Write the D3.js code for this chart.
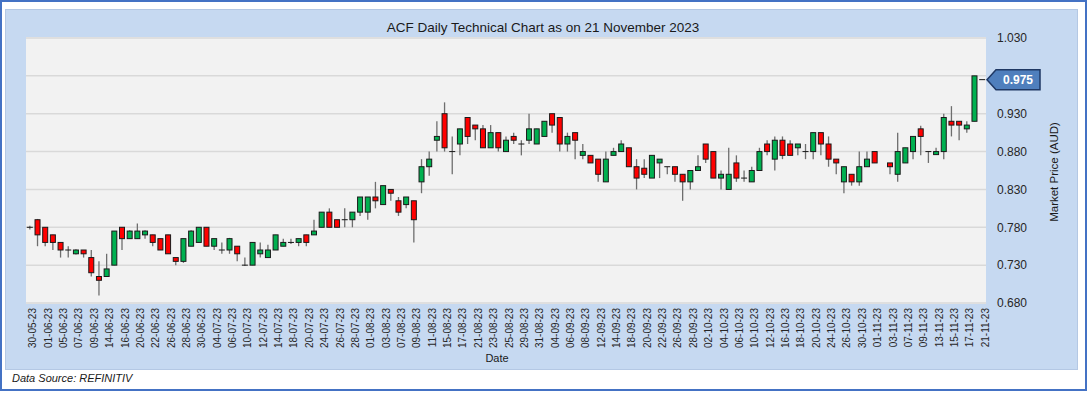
<!DOCTYPE html>
<html><head><meta charset="utf-8">
<script src="https://cdn.jsdelivr.net/npm/d3@7"></script>
<style>html,body{margin:0;padding:0;background:#fff;}svg{display:block;}</style>
</head><body>
<script>
const dates = ["30-05-23","31-05-23","01-06-23","02-06-23","05-06-23","06-06-23","07-06-23","08-06-23","09-06-23","13-06-23","14-06-23","15-06-23","16-06-23","19-06-23","20-06-23","21-06-23","22-06-23","23-06-23","26-06-23","27-06-23","28-06-23","29-06-23","30-06-23","03-07-23","04-07-23","05-07-23","06-07-23","07-07-23","10-07-23","11-07-23","12-07-23","13-07-23","14-07-23","17-07-23","18-07-23","19-07-23","20-07-23","21-07-23","24-07-23","25-07-23","26-07-23","27-07-23","28-07-23","31-07-23","01-08-23","02-08-23","03-08-23","04-08-23","07-08-23","08-08-23","09-08-23","10-08-23","11-08-23","14-08-23","15-08-23","16-08-23","17-08-23","18-08-23","21-08-23","22-08-23","23-08-23","24-08-23","25-08-23","28-08-23","29-08-23","30-08-23","31-08-23","01-09-23","04-09-23","05-09-23","06-09-23","07-09-23","08-09-23","11-09-23","12-09-23","13-09-23","14-09-23","15-09-23","18-09-23","19-09-23","20-09-23","21-09-23","22-09-23","25-09-23","26-09-23","27-09-23","28-09-23","29-09-23","02-10-23","03-10-23","04-10-23","05-10-23","06-10-23","09-10-23","10-10-23","11-10-23","12-10-23","13-10-23","16-10-23","17-10-23","18-10-23","19-10-23","20-10-23","23-10-23","24-10-23","25-10-23","26-10-23","27-10-23","30-10-23","31-10-23","01-11-23","02-11-23","03-11-23","06-11-23","07-11-23","08-11-23","09-11-23","10-11-23","13-11-23","14-11-23","15-11-23","16-11-23","17-11-23","20-11-23","21-11-23"];
const opens  = [.780,.790,.780,.770,.760,.750,.745,.750,.740,.715,.715,.730,.780,.765,.765,.770,.770,.765,.770,.740,.735,.755,.760,.780,.755,.750,.750,.755,.730,.730,.745,.740,.750,.755,.760,.760,.770,.770,.780,.800,.790,.790,.790,.800,.800,.820,.810,.830,.815,.810,.815,.840,.860,.895,.930,.880,.890,.925,.915,.910,.885,.905,.880,.900,.890,.895,.890,.900,.930,.925,.890,.905,.875,.875,.870,.840,.875,.880,.885,.860,.858,.845,.865,.860,.860,.850,.840,.855,.890,.880,.845,.830,.865,.845,.840,.855,.890,.870,.895,.890,.885,.880,.880,.905,.890,.870,.840,.850,.840,.860,.880,null,.865,.850,.865,.880,.910,.880,.876,.880,.920,.920,.910,.920,.975];
const highs  = [.782,.791,.780,.770,.760,.755,.751,.750,.750,.735,.745,.775,.780,.776,.785,.776,.770,.765,.770,.740,.765,.776,.780,.780,.765,.760,.766,.755,.740,.760,.760,.757,.770,.765,.765,.765,.770,.790,.800,.805,.790,.805,.800,.820,.820,.840,.835,.830,.820,.820,.815,.870,.880,.920,.945,.900,.910,.925,.915,.915,.915,.905,.900,.905,.895,.930,.910,.920,.930,.925,.905,.905,.890,.875,.870,.880,.885,.895,.885,.870,.870,.875,.870,.860,.860,.850,.855,.875,.890,.880,.855,.885,.875,.855,.860,.885,.895,.900,.900,.895,.890,.890,.905,.905,.900,.870,.860,.850,.880,.880,.880,null,.865,.905,.885,.900,.914,.880,.885,.930,.940,.920,.920,.980,.975];
const lows   = [.777,.755,.755,.750,.740,.740,.744,.740,.715,.690,.715,.730,.750,.765,.765,.765,.755,.750,.745,.730,.733,.755,.760,.755,.750,.745,.745,.735,.729,.730,.740,.740,.750,.755,.758,.755,.755,.770,.780,.780,.780,.780,.780,.795,.790,.805,.810,.815,.795,.805,.760,.825,.848,.880,.880,.850,.875,.890,.895,.885,.885,.880,.880,.890,.875,.890,.890,.900,.905,.880,.880,.870,.870,.865,.840,.840,.875,.880,.860,.830,.845,.845,.845,.850,.840,.815,.830,.855,.865,.845,.830,.830,.840,.840,.840,.855,.875,.855,.870,.875,.875,.870,.870,.875,.860,.850,.825,.835,.835,.860,.865,null,.850,.840,.865,.870,.875,.865,.876,.870,.900,.895,.905,.920,.975];
const closes = [.780,.770,.760,.760,.750,.750,.750,.745,.720,.710,.725,.775,.765,.775,.775,.775,.760,.750,.745,.735,.765,.775,.780,.755,.765,.750,.765,.745,.730,.760,.750,.750,.770,.760,.760,.765,.760,.775,.800,.780,.780,.790,.800,.820,.820,.815,.835,.825,.800,.820,.790,.860,.870,.900,.885,.880,.910,.900,.910,.885,.905,.885,.895,.895,.890,.910,.910,.920,.915,.890,.900,.895,.880,.865,.850,.870,.880,.890,.860,.845,.850,.875,.870,.860,.850,.840,.855,.860,.870,.845,.850,.850,.845,.845,.855,.880,.880,.895,.875,.875,.890,.880,.905,.890,.870,.865,.860,.840,.860,.870,.865,null,.860,.880,.885,.900,.900,.880,.880,.925,.915,.915,.915,.980,.975];
const yTicks = [0.680,0.730,0.780,0.830,0.880,0.930,0.980,1.030];
const lastPrice = closes[closes.length-1];
const title = "ACF Daily Technical Chart as on 21 November 2023";

const W = 1088, H = 393;
const FONT = "Liberation Sans, Arial, sans-serif";
const svg = d3.select("body").append("svg").attr("width", W).attr("height", H);
svg.append("rect").attr("x",1).attr("y",1).attr("width",1085).attr("height",389)
  .attr("fill","#fff").attr("stroke","#4472c4").attr("stroke-width",2);
svg.append("rect").attr("x",5.5).attr("y",9.5).attr("width",1072).attr("height",360)
  .attr("fill","#c6d9f1").attr("stroke","#b4c8e4").attr("stroke-width",1);

const plot = {l:26, r:986, t:37, b:304};
svg.append("rect").attr("x",plot.l).attr("y",plot.t).attr("width",plot.r-plot.l).attr("height",plot.b-plot.t).attr("fill","#f2f2f2");

const y = d3.scaleLinear().domain([0.68,1.03]).range([303,38]);
const x = d3.scaleBand().domain(dates).range([plot.l,plot.r]).padding(0);
const cx = d => x(d) + x.bandwidth()/2;

// grid
svg.append("g").selectAll("line").data(yTicks).join("line")
  .attr("x1",plot.l).attr("x2",plot.r).attr("y1",d=>y(d)).attr("y2",d=>y(d))
  .attr("stroke","#d9d9d9").attr("stroke-width",1.5);

// y axis labels (right)
const yAxis = d3.axisRight(y).tickValues(yTicks.filter(t=>Math.abs(t-0.98)>1e-6)).tickFormat(d3.format(".3f")).tickSize(0).tickPadding(0);
const ga = svg.append("g").attr("transform","translate(997,0)").call(yAxis);
ga.select(".domain").remove();
ga.selectAll("text").attr("font-family",FONT).attr("font-size",12).attr("fill","#262626");

// x axis labels
const labelDates = dates.filter((d,i)=>i%2===0);
const xAxis = d3.axisBottom(x).tickValues(labelDates).tickSize(0).tickPadding(0);
const gx = svg.append("g").attr("transform","translate(0,308)").call(xAxis);
gx.select(".domain").remove();
gx.selectAll("text").attr("font-family",FONT).attr("font-size",10).attr("fill","#262626")
  .attr("text-anchor","end").attr("dy",null).attr("y",0)
  .attr("transform","translate(3,0) rotate(-90)").attr("dominant-baseline","central");

// candles
const data = dates.map((d,i)=>({d, o:opens[i], h:highs[i], l:lows[i], c:closes[i]})).filter(e=>e.o!==null);
const bw = 5;
const g = svg.append("g");
g.selectAll("line.wick").data(data.filter(e=>e.h>e.l)).join("line").attr("class","wick")
  .attr("x1",e=>cx(e.d)).attr("x2",e=>cx(e.d)).attr("y1",e=>y(e.h)).attr("y2",e=>y(e.l))
  .attr("stroke","#6e6e6e").attr("stroke-width",1.3);
g.selectAll("rect.body").data(data).join("rect").attr("class","body")
  .attr("x",e=>cx(e.d)-bw/2).attr("width",bw)
  .attr("y",e=>y(Math.max(e.o,e.c)))
  .attr("height",e=>Math.max(0.01,Math.abs(y(e.o)-y(e.c))))
  .attr("fill",e=>e.c>e.o?"#00b050":(e.c<e.o?"#ff0000":"#000"))
  .attr("stroke","#1a1a1a").attr("stroke-width",1);

// last price callout
const ly = y(lastPrice);
svg.append("path").attr("d",`M987,${ly} L996,${ly-10} L1040,${ly-10} L1040,${ly+10} L996,${ly+10} Z`)
  .attr("fill","#4f7fbd").attr("stroke","#1f3864").attr("stroke-width",1.5);
svg.append("text").attr("x",1018).attr("y",ly).attr("dy","0.36em").attr("text-anchor","middle")
  .attr("font-family",FONT).attr("font-size",12).attr("font-weight","bold").attr("fill","#fff")
  .text(d3.format(".3f")(lastPrice));

// texts
svg.append("text").attr("x",543).attr("y",32).attr("text-anchor","middle")
  .attr("font-family",FONT).attr("font-size",13.5).attr("fill","#1a1a1a").text(title);
svg.append("text").attr("transform","translate(1058,172) rotate(-90)").attr("text-anchor","middle")
  .attr("font-family",FONT).attr("font-size",11.5).attr("fill","#1a1a1a").text("Market Price (AUD)");
svg.append("text").attr("x",497).attr("y",362).attr("text-anchor","middle")
  .attr("font-family",FONT).attr("font-size",11).attr("fill","#1a1a1a").text("Date");
svg.append("text").attr("x",12).attr("y",382)
  .attr("font-family",FONT).attr("font-size",11).attr("font-style","italic").attr("fill","#1a1a1a").text("Data Source: REFINITIV");
</script>
</body></html>
